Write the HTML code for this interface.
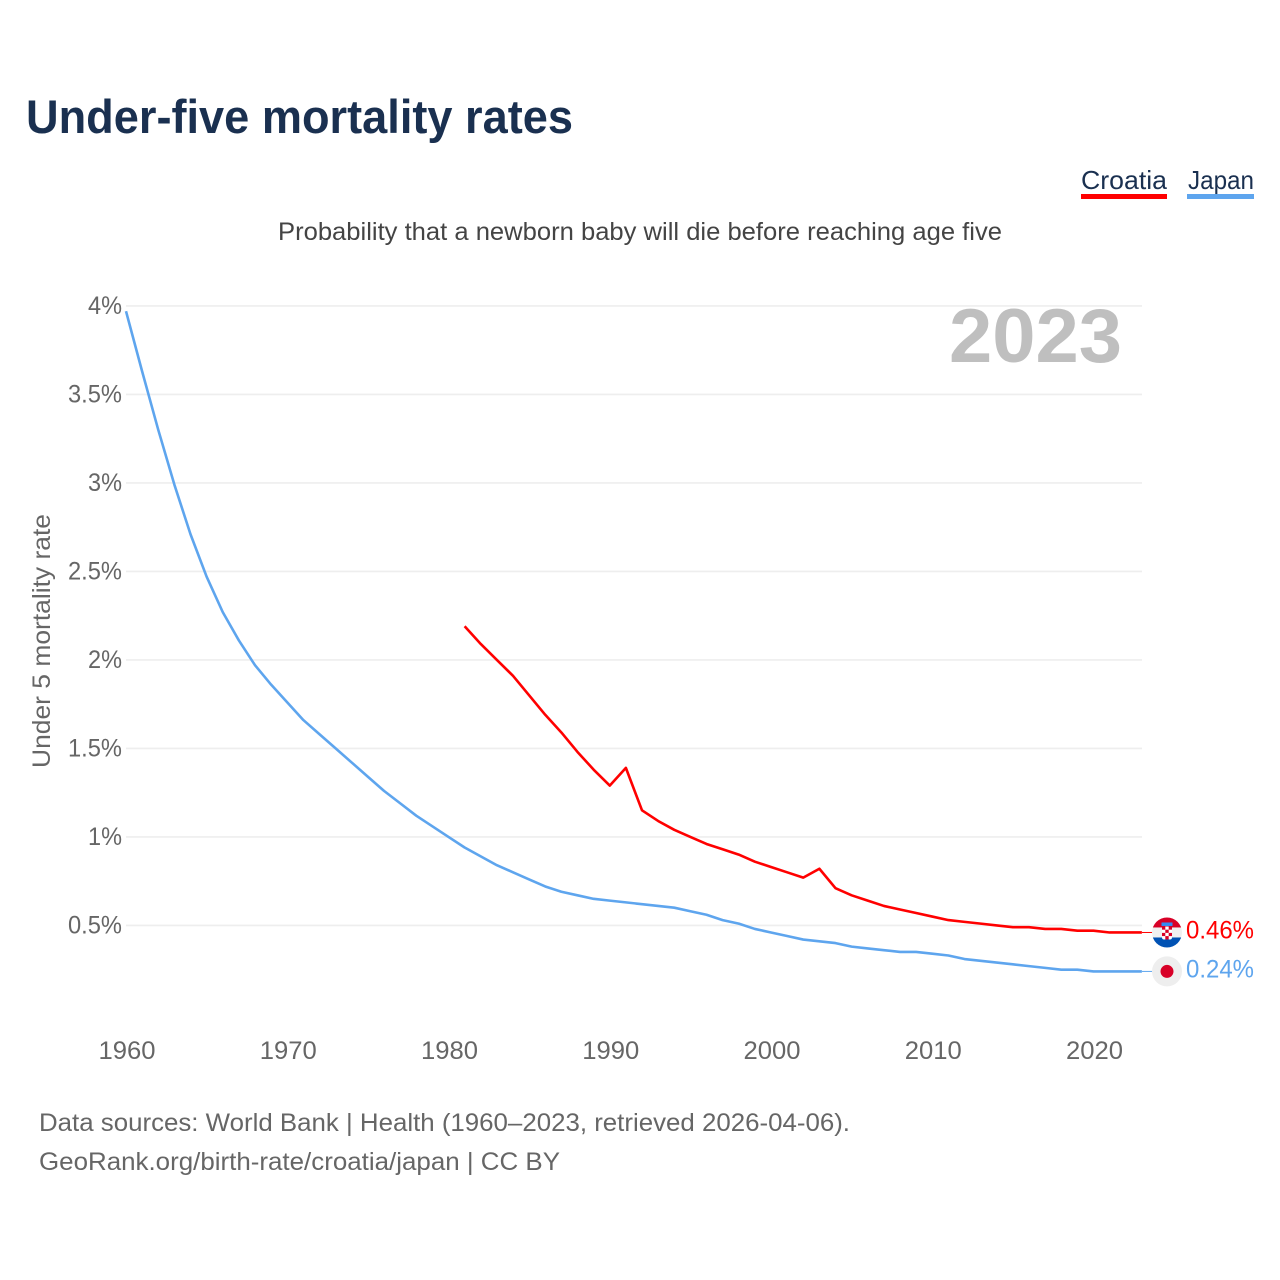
<!DOCTYPE html>
<html lang="en">
<head>
<meta charset="utf-8">
<title>Under-five mortality rates</title>
<style>
html,body{margin:0;padding:0;background:#fff;width:1280px;height:1280px;overflow:hidden}
svg{display:block;font-family:"Liberation Sans",sans-serif}
</style>
</head>
<body>
<svg id="chart" xmlns="http://www.w3.org/2000/svg" width="1280" height="1280" viewBox="0 0 1280 1280">
  <defs>
    <clipPath id="flag-clip-hr"><circle cx="0" cy="0" r="15"/></clipPath>
  </defs>
  <rect width="1280" height="1280" fill="#fff"/>
  <text x="26" y="133" font-size="47" font-weight="700" fill="#1a3050" textLength="547" lengthAdjust="spacingAndGlyphs">Under-five mortality rates</text>
  <g>
    <g>
      <text x="1081" y="189" font-size="26" fill="#1a3050" textLength="86" lengthAdjust="spacingAndGlyphs">Croatia</text>
      <rect x="1081" y="194" width="86" height="5" fill="#ff0000"/>
    </g>
    <g>
      <text x="1188" y="189" font-size="26" fill="#1a3050" textLength="66" lengthAdjust="spacingAndGlyphs">Japan</text>
      <rect x="1187" y="194" width="67" height="5" fill="#5ea5ee"/>
    </g>
  </g>
  <text x="278" y="240" font-size="25" fill="#444" textLength="724" lengthAdjust="spacingAndGlyphs">Probability that a newborn baby will die before reaching age five</text>
  <g id="grid"></g>
  <g id="yticks"></g>
  <g id="xticks"></g>
  <text transform="translate(50,768) rotate(-90)" font-size="25" fill="#666" textLength="254" lengthAdjust="spacingAndGlyphs">Under 5 mortality rate</text>
  <text x="949" y="362" font-size="76" font-weight="700" fill="#bfbfbf" textLength="173" lengthAdjust="spacingAndGlyphs">2023</text>
  <g id="series"></g>
  <g id="flag-hr">
    <g clip-path="url(#flag-clip-hr)">
      <rect x="-15" y="-15" width="30" height="10" fill="#d80027"/>
      <rect x="-15" y="-5" width="30" height="10" fill="#f0f0f0"/>
      <rect x="-15" y="5" width="30" height="10" fill="#0052b4"/>
      <rect x="-5.5" y="-10" width="11" height="3.5" fill="#338af3"/>
      <rect x="-5" y="-6" width="10" height="13" rx="2" fill="#fff"/>
      <rect x="-5" y="-6" width="3.3" height="3.2" fill="#d80027"/>
      <rect x="1.7" y="-6" width="3.3" height="3.2" fill="#d80027"/>
      <rect x="-1.7" y="-2.8" width="3.4" height="3.2" fill="#d80027"/>
      <rect x="-5" y="0.4" width="3.3" height="3.2" fill="#d80027"/>
      <rect x="1.7" y="0.4" width="3.3" height="3.2" fill="#d80027"/>
      <rect x="-1.7" y="3.6" width="3.4" height="3.4" fill="#d80027"/>
    </g>
  </g>
  <g id="flag-jp">
    <circle cx="0" cy="0" r="15" fill="#eeeeee"/>
    <circle cx="0" cy="0" r="6.5" fill="#d80027"/>
  </g>
  <text id="end-hr" x="1186" font-size="25" fill="#ff0000" textLength="68" lengthAdjust="spacingAndGlyphs"></text>
  <text id="end-jp" x="1186" font-size="25" fill="#5ea5ee" textLength="68" lengthAdjust="spacingAndGlyphs"></text>
  <text x="39" y="1131" font-size="25" fill="#666" textLength="811" lengthAdjust="spacingAndGlyphs">Data sources: World Bank | Health (1960–2023, retrieved 2026-04-06).</text>
  <text x="39" y="1170" font-size="25" fill="#666" textLength="521" lengthAdjust="spacingAndGlyphs">GeoRank.org/birth-rate/croatia/japan | CC BY</text>
</svg>
<script>
const yTickValues = [4, 3.5, 3, 2.5, 2, 1.5, 1, 0.5];
const yTickLabels = ['4%', '3.5%', '3%', '2.5%', '2%', '1.5%', '1%', '0.5%'];
const xTickYears = [1960, 1970, 1980, 1990, 2000, 2010, 2020];
const japanStartYear = 1960;
const japanValues = [3.97, 3.63, 3.30, 2.99, 2.71, 2.47, 2.27, 2.11, 1.97, 1.86, 1.76, 1.66, 1.58, 1.50, 1.42, 1.34, 1.26, 1.19, 1.12, 1.06, 1.00, 0.94, 0.89, 0.84, 0.80, 0.76, 0.72, 0.69, 0.67, 0.65, 0.64, 0.63, 0.62, 0.61, 0.60, 0.58, 0.56, 0.53, 0.51, 0.48, 0.46, 0.44, 0.42, 0.41, 0.40, 0.38, 0.37, 0.36, 0.35, 0.35, 0.34, 0.33, 0.31, 0.30, 0.29, 0.28, 0.27, 0.26, 0.25, 0.25, 0.24, 0.24, 0.24, 0.24];
const croatiaStartYear = 1981;
const croatiaValues = [2.19, 2.09, 2.00, 1.91, 1.80, 1.69, 1.59, 1.48, 1.38, 1.29, 1.39, 1.15, 1.09, 1.04, 1.00, 0.96, 0.93, 0.90, 0.86, 0.83, 0.80, 0.77, 0.82, 0.71, 0.67, 0.64, 0.61, 0.59, 0.57, 0.55, 0.53, 0.52, 0.51, 0.50, 0.49, 0.49, 0.48, 0.48, 0.47, 0.47, 0.46, 0.46, 0.46];

const NS = 'http://www.w3.org/2000/svg';
const xScale = function (year) { return 126 + (year - 1960) * 16.125; };
const yScale = function (v) { return 305.9 + (4 - v) * 177; };
const PLOT_RIGHT = 1142;

const grid = document.getElementById('grid');
const yticks = document.getElementById('yticks');
const xticks = document.getElementById('xticks');
const series = document.getElementById('series');

yTickValues.forEach(function (v, i) {
  const line = document.createElementNS(NS, 'line');
  
  
  line.setAttribute('x1', 126);
  line.setAttribute('x2', PLOT_RIGHT);
  line.setAttribute('y1', yScale(v));
  line.setAttribute('y2', yScale(v));
  line.setAttribute('stroke', '#eeeeee');
  line.setAttribute('stroke-width', '1.6');
  grid.appendChild(line);

  const label = document.createElementNS(NS, 'text');
  
  
  label.setAttribute('x', 122);
  label.setAttribute('y', yScale(v) + 8);
  label.setAttribute('text-anchor', 'end');
  label.setAttribute('font-size', '25');
  label.setAttribute('fill', '#666');
  label.setAttribute('textLength', yTickLabels[i].length === 2 ? 34 : 54);
  label.setAttribute('lengthAdjust', 'spacingAndGlyphs');
  label.textContent = yTickLabels[i];
  yticks.appendChild(label);
});

xTickYears.forEach(function (year) {
  const label = document.createElementNS(NS, 'text');
  
  
  label.setAttribute('x', xScale(year) + 1);
  label.setAttribute('y', 1059);
  label.setAttribute('text-anchor', 'middle');
  label.setAttribute('font-size', '25');
  label.setAttribute('fill', '#666');
  label.setAttribute('textLength', 57);
  label.setAttribute('lengthAdjust', 'spacingAndGlyphs');
  label.textContent = String(year);
  xticks.appendChild(label);
});

function linePath(startYear, values) {
  return values.map(function (v, i) {
    return (i ? 'L' : 'M') + xScale(startYear + i).toFixed(2) + ' ' + yScale(v).toFixed(2);
  }).join(' ');
}

const japanLine = document.createElementNS(NS, 'path');


japanLine.setAttribute('d', linePath(japanStartYear, japanValues));
japanLine.setAttribute('fill', 'none');
japanLine.setAttribute('stroke', '#5ea5ee');
japanLine.setAttribute('stroke-width', '2.6');
japanLine.setAttribute('stroke-linejoin', 'round');
series.appendChild(japanLine);

const croatiaLine = document.createElementNS(NS, 'path');


croatiaLine.setAttribute('d', linePath(croatiaStartYear, croatiaValues));
croatiaLine.setAttribute('fill', 'none');
croatiaLine.setAttribute('stroke', '#ff0000');
croatiaLine.setAttribute('stroke-width', '2.6');
croatiaLine.setAttribute('stroke-linejoin', 'round');
series.appendChild(croatiaLine);

const hrLast = croatiaValues[croatiaValues.length - 1];
const jpLast = japanValues[japanValues.length - 1];

const hrConnector = document.createElementNS(NS, 'line');


hrConnector.setAttribute('x1', PLOT_RIGHT);
hrConnector.setAttribute('x2', 1152);
hrConnector.setAttribute('y1', yScale(hrLast));
hrConnector.setAttribute('y2', yScale(hrLast));
hrConnector.setAttribute('stroke', '#ff0000');
hrConnector.setAttribute('stroke-width', '1');
series.appendChild(hrConnector);

const jpConnector = document.createElementNS(NS, 'line');


jpConnector.setAttribute('x1', PLOT_RIGHT);
jpConnector.setAttribute('x2', 1152);
jpConnector.setAttribute('y1', yScale(jpLast));
jpConnector.setAttribute('y2', yScale(jpLast));
jpConnector.setAttribute('stroke', '#5ea5ee');
jpConnector.setAttribute('stroke-width', '1');
series.appendChild(jpConnector);

document.getElementById('flag-hr').setAttribute('transform', 'translate(1167,' + yScale(hrLast) + ')');
document.getElementById('flag-jp').setAttribute('transform', 'translate(1167,' + yScale(jpLast) + ')');

const endHr = document.getElementById('end-hr');
endHr.setAttribute('y', yScale(hrLast) + 6);
endHr.textContent = hrLast.toFixed(2) + '%';
const endJp = document.getElementById('end-jp');
endJp.setAttribute('y', yScale(jpLast) + 6);
endJp.textContent = jpLast.toFixed(2) + '%';
</script>
</body>
</html>
